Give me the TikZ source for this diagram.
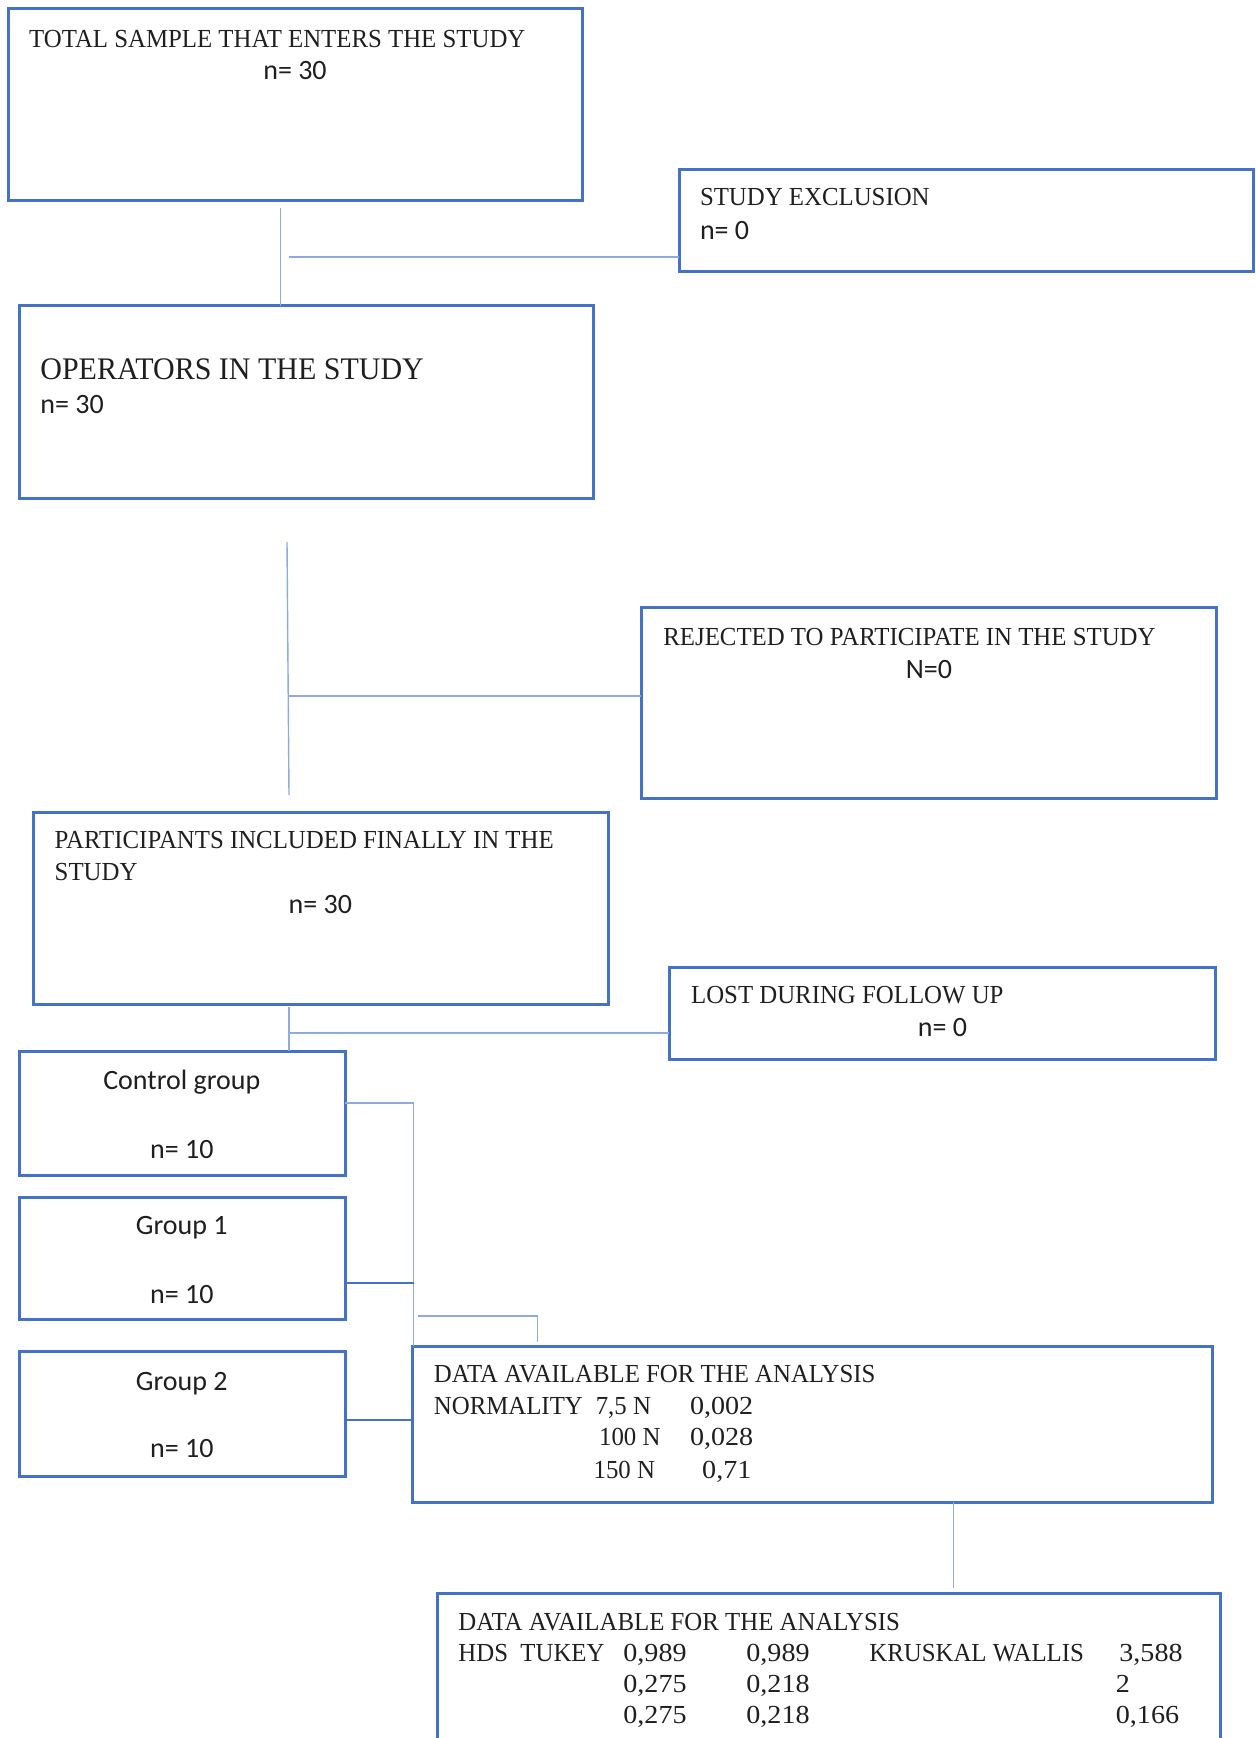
\documentclass[tikz,border=0pt]{standalone}
\usepackage{fontspec}
\setmainfont{Liberation Serif}[FakeStretch=0.955]
\newfontfamily\numfont{Liberation Serif}[FakeStretch=1.08]
\newfontfamily\calfont{Carlito}
\definecolor{boxblue}{HTML}{4472C4}
\definecolor{connblue}{HTML}{8FAADC}
\definecolor{ink}{HTML}{1F1F1F}
\begin{document}
\begin{tikzpicture}[x=0.5pt,y=-0.5pt,
  box/.style={draw=boxblue, line width=1.5pt, inner sep=0pt, outer sep=0pt, anchor=north west},
  conn/.style={draw=connblue, line width=0.7pt},
  gconn/.style={draw=boxblue, line width=0.6pt},
  st/.style={inner sep=0pt, anchor=base west, text=ink, font=\fontsize{13}{15}\selectfont},
  stnum/.style={st, font=\numfont\fontsize{13}{15}\selectfont},
  stbig/.style={st, font=\fontsize{15.7}{18}\selectfont},
  sn/.style={inner sep=0pt, anchor=base west, text=ink, font=\calfont\fontsize{14}{16}\selectfont},
  snc/.style={sn, anchor=base},
]
\useasboundingbox (0,0) rectangle (1255,1738);
\clip (0,0) rectangle (1255,1738);
\fill[white] (0,0) rectangle (1255,1738);

% boxes
\node[box, minimum width=287pt, minimum height=96pt] (b1) at (8,9) {};
\node[box, minimum width=287pt, minimum height=51pt] (ex) at (679,170) {};
\node[box, minimum width=287pt, minimum height=96pt] (b2) at (19,306) {};
\node[box, minimum width=287.5pt, minimum height=95.5pt] (rej) at (641,607) {};
\node[box, minimum width=287.5pt, minimum height=96pt] (b3) at (33,812) {};
\node[box, minimum width=273pt, minimum height=46pt] (lost) at (669,967) {};
\node[box, minimum width=163pt, minimum height=62pt] (ctl) at (19,1051) {};
\node[box, minimum width=163pt, minimum height=61pt] (g1) at (19,1197) {};
\node[box, minimum width=163pt, minimum height=62.5pt] (g2) at (19,1351) {};
\node[box, minimum width=400pt, minimum height=78pt] (d1) at (412,1346) {};
\node[box, minimum width=391.5pt, minimum height=90pt] (d2) at (437,1593) {};

% connectors
\coordinate (v1a) at (280.5,208);
\draw[conn] (v1a) -- (v1a |- b2.north);
\coordinate (h1a) at (289,257);
\draw[conn] (h1a) -- (h1a -| ex.west);
\coordinate (v2a) at (287,542);
\coordinate (v2b) at (289,795);
\draw[conn] (v2a) -- (v2b);
\coordinate (h2a) at (289,696);
\draw[conn, line width=1.1pt] (h2a) -- (h2a -| rej.west);
\coordinate (v3a) at (289,1007);
\draw[conn] (v3a) -- (v3a |- ctl.north);
\coordinate (h3a) at (289,1033);
\draw[conn] (h3a) -- (h3a -| lost.west);
\coordinate (gx) at (413.5,1103);
\draw[conn] (gx -| ctl.east) -- (gx) -- (gx |- d1.north);
\coordinate (g1j) at (413.5,1283);
\draw[gconn] (g1j -| g1.east) -- (g1j);
\coordinate (g2j) at (412,1420);
\draw[gconn] (g2j -| g2.east) -- (g2j -| d1.west);
\coordinate (bk) at (418,1316);
\coordinate (bk2) at (537.7,1316);
\coordinate (bk3) at (537.7,1342);
\draw[conn] (bk) -- (bk2) -- (bk3);
\coordinate (v4) at (953.5,1588);
\draw[conn] (v4 |- d1.south) -- (v4);

% texts
\node[st] (t1) at (28.8,47.5) {TOTAL SAMPLE THAT ENTERS THE STUDY};
\node[snc] (t2) at (295,80) {n= 30};
\node[st] (t3) at (699.6,206) {STUDY EXCLUSION};
\node[sn] (t4) at (699.6,239.5) {n= 0};
\node[stbig] (t5) at (40,379.8) {OPERATORS IN THE STUDY};
\node[sn] (t6) at (40,413.6) {n= 30};
\node[st] (t7) at (663,645) {REJECTED TO PARTICIPATE IN THE STUDY};
\node[snc] (t8) at (929,678.6) {N=0};
\node[st] (t9) at (54.3,848) {PARTICIPANTS INCLUDED FINALLY IN THE};
\node[st] (t10) at (54.3,880.4) {STUDY};
\node[snc] (t11) at (320.4,913.6) {n= 30};
\node[st] (t12) at (690.7,1003.5) {LOST DURING FOLLOW UP};
\node[snc] (t13) at (942.4,1036.7) {n= 0};
\node[snc] (t14) at (181.8,1089.5) {Control group};
\node[snc] (t15) at (181.8,1158) {n= 10};
\node[snc] (t16) at (181.8,1234.5) {Group 1};
\node[snc] (t17) at (181.8,1303.5) {n= 10};
\node[snc] (t18) at (181.8,1390.5) {Group 2};
\node[snc] (t19) at (181.8,1457.5) {n= 10};

\node[st] (d1a) at (433.5,1382.6) {DATA AVAILABLE FOR THE ANALYSIS};
\node[st] (d1b) at (433.5,1414.7) {NORMALITY};
\node[st] (d1c) at (595.4,1414.7) {7,5 N};
\node[stnum] (d1d) at (689.6,1414.7) {0,002};
\node[st] (d1e) at (598.7,1445.8) {100 N};
\node[stnum] (d1f) at (689.6,1445.8) {0,028};
\node[st] (d1g) at (593.2,1478) {150 N};
\node[stnum] (d1h) at (701.8,1478) {0,71};

\node[st] (d2a) at (458,1630) {DATA AVAILABLE FOR THE ANALYSIS};
\node[st] (d2b) at (458,1661) {HDS};
\node[st] (d2c) at (520,1661) {TUKEY};
\node[stnum] (d2d) at (623,1661) {0,989};
\node[stnum] (d2e) at (746,1661) {0,989};
\node[st] (d2f) at (869,1661) {KRUSKAL WALLIS};
\node[stnum] (d2g) at (1119,1661) {3,588};
\node[stnum] (d2h) at (623,1692) {0,275};
\node[stnum] (d2i) at (746,1692) {0,218};
\node[stnum] (d2j) at (1115.5,1692) {2};
\node[stnum] (d2k) at (623,1723) {0,275};
\node[stnum] (d2l) at (746,1723) {0,218};
\node[stnum] (d2m) at (1115.5,1723) {0,166};
\end{tikzpicture}
\end{document}
